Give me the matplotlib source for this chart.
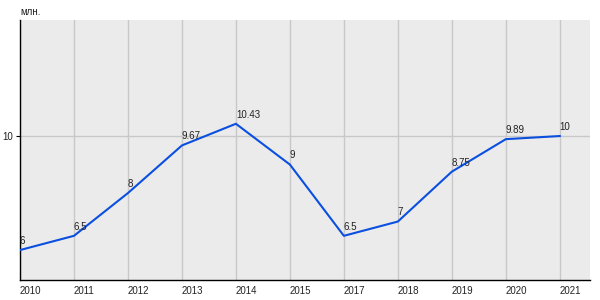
import matplotlib
matplotlib.use("Agg")
import matplotlib.pyplot as plt
import numpy as np

years = ["2010", "2011", "2012", "2013", "2014", "2015", "2017", "2018", "2019", "2020", "2021"]
values = [6, 6.5, 8, 9.67, 10.43, 9, 6.5, 7, 8.75, 9.89, 10]
labels = ["6", "6.5", "8", "9.67", "10.43", "9", "6.5", "7", "8.75", "9.89", "10"]

plt.rcParams["font.family"] = ["Liberation Sans", "DejaVu Sans"]

fig = plt.figure(figsize=(6, 3), dpi=100)
ax = fig.add_axes([20 / 600, 20 / 300, 570 / 600, 260 / 300])
ax.set_facecolor("#ebebeb")

x = np.arange(len(years))
for xi in x:
    ax.axvline(xi, color="#c8c8c8", lw=1, zorder=1)
ax.axhline(10, color="#c8c8c8", lw=1, zorder=1)

ax.plot(x, values, color="#0a4fe0", lw=1.5, zorder=3)
for xi, v, lab in zip(x, values, labels):
    ax.annotate(lab, (xi, v), xytext=(0, 3), textcoords="offset points",
                ha="left", va="bottom", fontsize=7, color="#222222", zorder=4)

ax.set_xlim(0, 10.56)
ax.set_ylim(4.95, 14.07)
ax.set_xticks(x)
ax.set_xticklabels(years, fontsize=7, color="#222222", ha="left")
ax.set_yticks([10])
ax.set_yticklabels(["10"], fontsize=7, color="#222222")
ax.tick_params(axis="x", length=0, pad=4)
ax.tick_params(axis="y", length=3, pad=2)

for side in ("top", "right"):
    ax.spines[side].set_visible(False)
for side in ("left", "bottom"):
    ax.spines[side].set_color("black")
    ax.spines[side].set_linewidth(1)

fig.text(20 / 600, 1 - 12 / 300, "млн.", fontsize=7, color="#222222", va="center", ha="left")

fig.savefig("out.png", dpi=100)
